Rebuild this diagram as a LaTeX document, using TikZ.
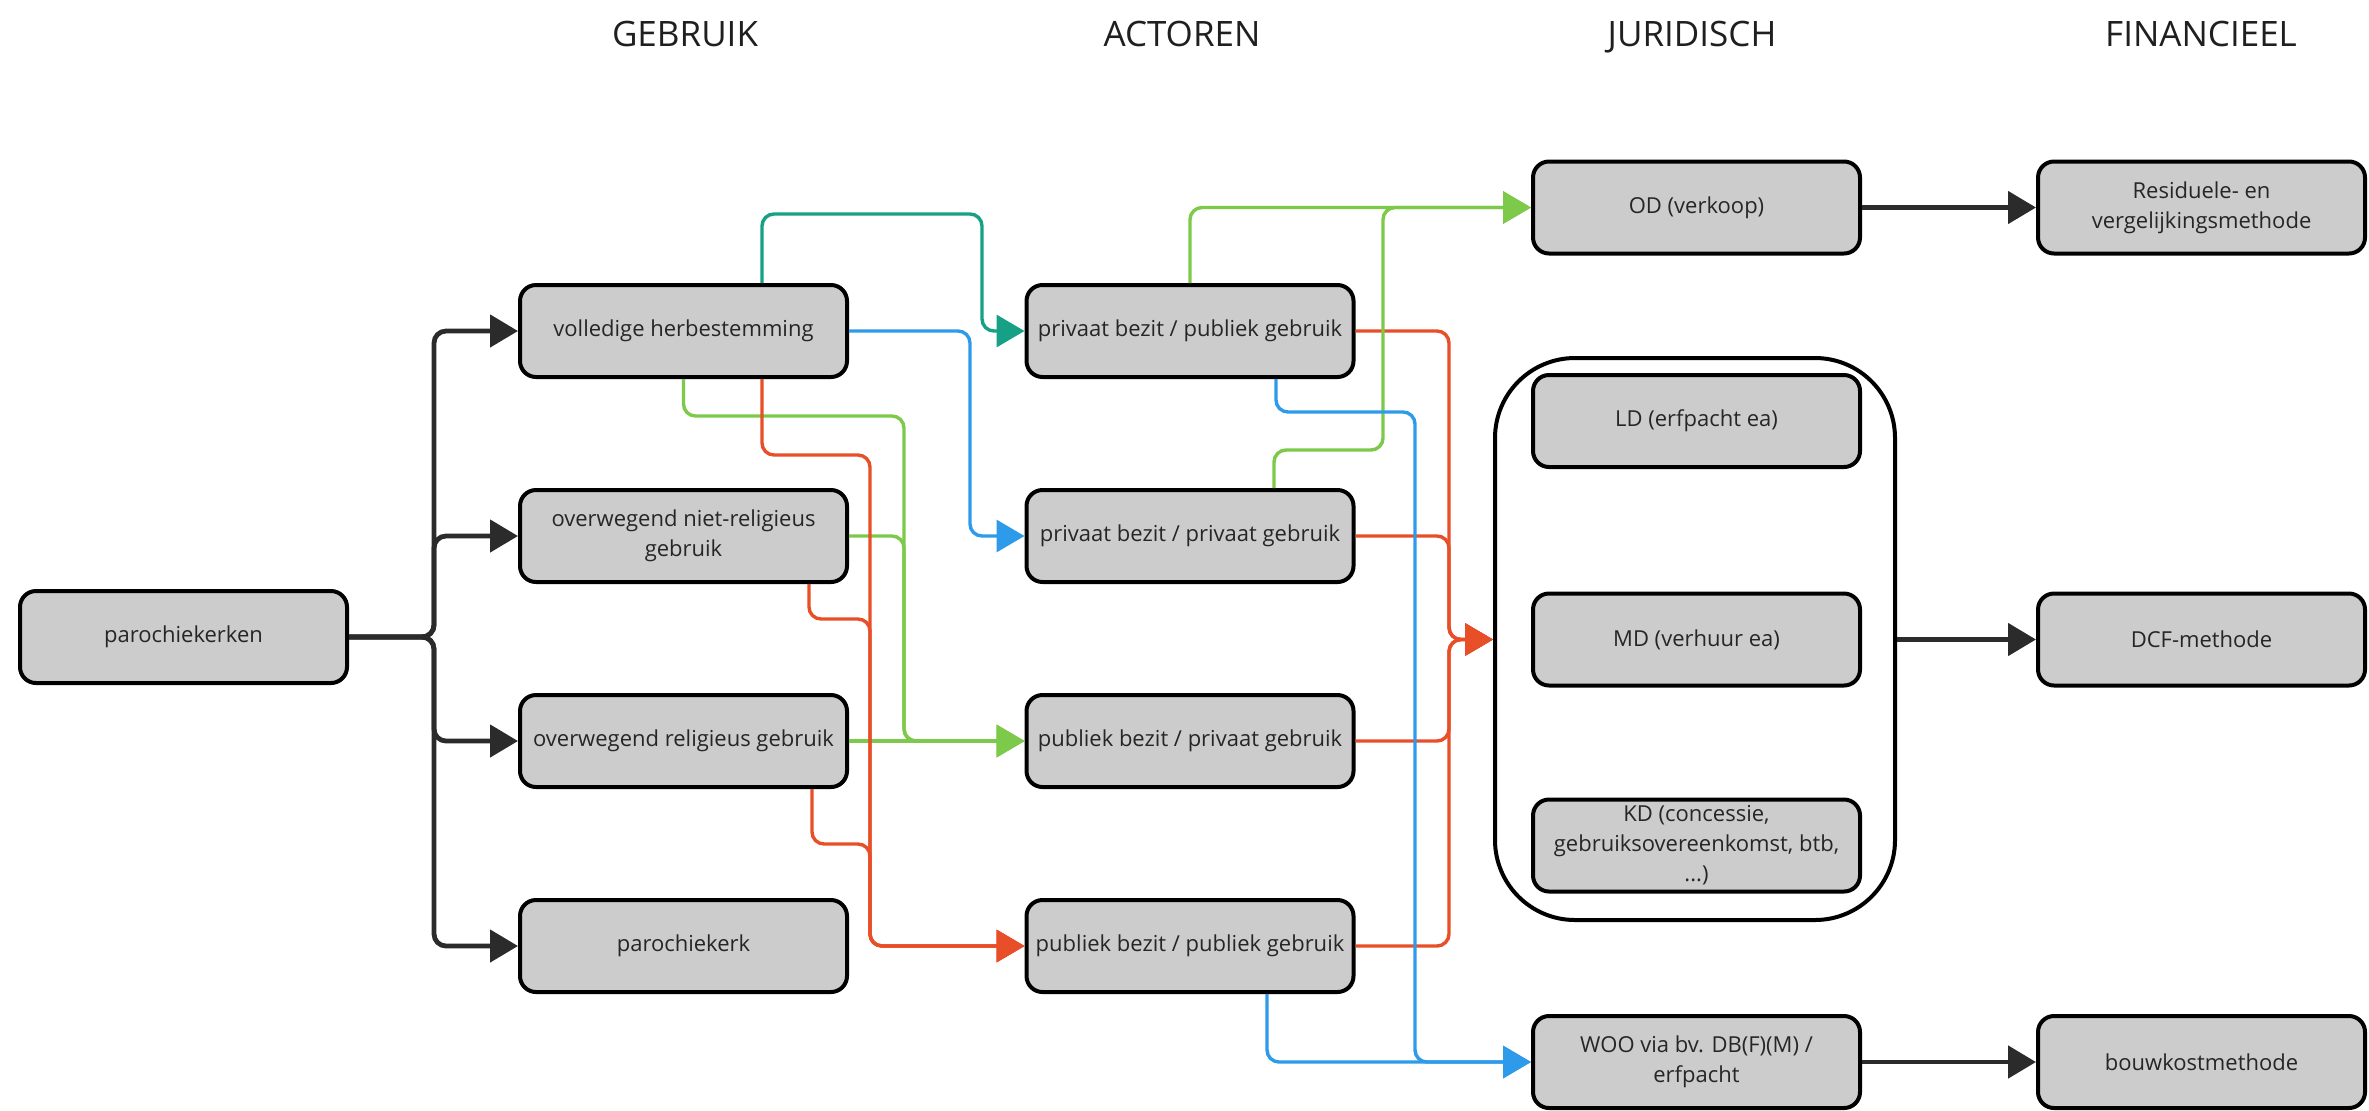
\documentclass[tikz,border=0pt]{standalone}
\usepackage{fontspec}
\setmainfont{Open Sans}
\usetikzlibrary{arrows.meta}
\definecolor{nodefill}{HTML}{CCCCCC}
\definecolor{cgreen}{HTML}{7DC94A}
\definecolor{cteal}{HTML}{16A085}
\definecolor{cred}{HTML}{E84E27}
\definecolor{cblue}{HTML}{2E9AEA}
\definecolor{cdark}{HTML}{2B2B2B}
\begin{document}
\begin{tikzpicture}[x=0.5pt,y=-0.5pt,
  box/.style={draw=black, line width=2pt, fill=nodefill, rounded corners=8pt,
    minimum width=163.5pt, minimum height=46pt, align=center, inner sep=2pt,
    font=\fontsize{11}{15}\selectfont, text=black!85},
  blk/.style={draw=cdark, line width=2.4pt, rounded corners=6pt,
    -{Triangle[length=14pt,width=16pt]}},
  con/.style={line width=1.7pt, rounded corners=6pt,
    -{Triangle[length=14pt,width=16pt]}},
  coltitle/.style={font=\fontsize{17.5}{21}\selectfont, text=black!88, anchor=base}
]
\useasboundingbox (0,0) rectangle (2369,1110);

% titles
\node[coltitle] (t1) at (685,46) {GEBRUIK};
\node[coltitle] (t2) at (1182,46) {ACTOREN};
\node[coltitle] (t3) at (1692,46) {JURIDISCH};
\node[coltitle] (t4) at (2201,46) {FINANCIEEL};

% container
\node[draw=black, line width=2pt, rounded corners=40pt, minimum width=200pt,
  minimum height=281pt, inner sep=0pt] (ctr) at (1695,639) {};

% nodes
\node[box] (pk) at (183.5,637) {parochiekerken};

\node[box] (vh)  at (683.5,331) {volledige herbestemming};
\node[box] (nr)  at (683.5,536) {overwegend niet-religieus\\gebruik};
\node[box] (rel) at (683.5,741) {overwegend religieus gebruik};
\node[box] (pk2) at (683.5,946) {parochiekerk};

\node[box] (ppu)  at (1190,331) {privaat bezit / publiek gebruik};
\node[box] (ppr)  at (1190,536) {privaat bezit / privaat gebruik};
\node[box] (pbpr) at (1190,741) {publiek bezit / privaat gebruik};
\node[box] (pbpu) at (1190,946) {publiek bezit / publiek gebruik};

\node[box] (OD)  at (1696.5,207.5) {OD (verkoop)};
\node[box] (LD)  at (1696.5,421) {LD (erfpacht ea)};
\node[box] (MD)  at (1696.5,639.5) {MD (verhuur ea)};
\node[box] (KD)  at (1696.5,845.5) {KD (concessie,\\gebruiksovereenkomst, btb,\\...)};
\node[box] (WOO) at (1696.5,1062) {WOO via bv. DB(F)(M) /\\erfpacht};

\node[box] (Res)  at (2201.5,207.5) {Residuele- en\\vergelijkingsmethode};
\node[box] (DCF)  at (2201.5,639.5) {DCF-methode};
\node[box] (bouw) at (2201.5,1062) {bouwkostmethode};

% black tree from parochiekerken
\coordinate (trunk) at (434,637);
\foreach \n in {vh,nr,rel,pk2}
  \draw[blk] (pk.east) -- (trunk) |- (\n.west);

% teal
\draw[con,cteal] ([xshift=39.25pt]vh.north) |- (982,214) |- (ppu.west);
% blue
\draw[con,cblue] (vh.east) -- (970,331) |- (ppr.west);
% green to publiek/privaat
\draw[con,cgreen] (vh.south) |- (904,416) |- (pbpr.west);
\draw[con,cgreen] (nr.east) -- (904,536) |- (pbpr.west);
\draw[con,cgreen] (rel.east) -- (pbpr.west);
% red to publiek/publiek
\draw[con,cred] ([xshift=39.25pt]vh.south) |- (870,455) |- (pbpu.west);
\draw[con,cred] ([xshift=62.75pt]nr.south) |- (870,619) |- (pbpu.west);
\draw[con,cred] ([xshift=64.25pt]rel.south) |- (870,844) |- (pbpu.west);

% red to container
\coordinate (cin) at (ctr.west |- MD.west);
\foreach \n in {ppu,ppr,pbpr,pbpu}
  \draw[con,cred] (\n.east) -| (1449,639.5) -- (cin);

% green to OD
\draw[con,cgreen] (ppu.north) |- (OD.west);
\draw[con,cgreen] ([xshift=42pt]ppr.north) |- (1383,450) |- (OD.west);

% blue to WOO
\draw[con,cblue] ([xshift=43pt]ppu.south) |- (1415,412) |- (WOO.west);
\draw[con,cblue] ([xshift=38.5pt]pbpu.south) |- (WOO.west);

% black to financial
\draw[blk] (OD.east) -- (Res.west);
\coordinate (cout) at (ctr.east |- DCF.west);
\draw[blk] (cout) -- (DCF.west);
\draw[blk] (WOO.east) -- (bouw.west);
\end{tikzpicture}
\end{document}
